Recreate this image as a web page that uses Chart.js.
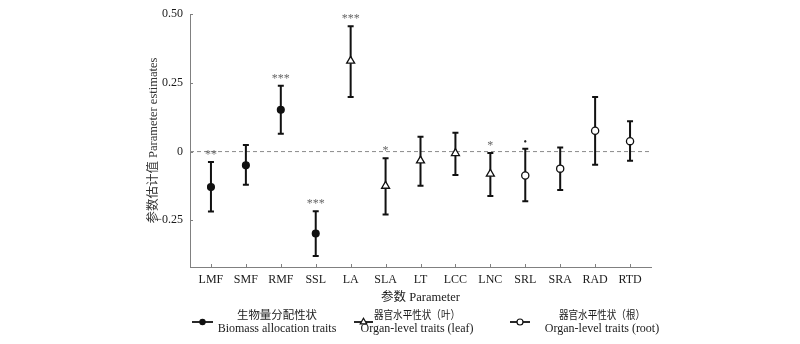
<!DOCTYPE html>
<html>
<head>
<meta charset="utf-8">
<script src="https://cdn.jsdelivr.net/npm/chart.js@4.4.1/dist/chart.umd.min.js"></script>
<style>
  html, body { margin: 0; padding: 0; background: #fff; }
  canvas { display: block; }
</style>
</head>
<body>
<canvas id="estChart" width="800" height="344"></canvas>
<script>
// parameters on the x axis, in plotting order
const params = ['LMF', 'SMF', 'RMF', 'SSL', 'LA', 'SLA', 'LT', 'LCC', 'LNC', 'SRL', 'SRA', 'RAD', 'RTD'];
// estimate and its interval for each parameter
const estimates = [-0.129, -0.050, 0.152, -0.298, 0.330, -0.125, -0.033, -0.006, -0.081, -0.087, -0.062, 0.076, 0.038];
const lowerCI   = [-0.218, -0.121, 0.065, -0.380, 0.199, -0.229, -0.124, -0.085, -0.162, -0.181, -0.140, -0.048, -0.033];
const upperCI   = [-0.038, 0.024, 0.240, -0.217, 0.456, -0.024, 0.054, 0.069, -0.005, 0.010, 0.015, 0.199, 0.110];
const signif    = ['**', '', '***', '***', '***', '*', '', '', '*', '•', '', '', ''];
// 0 = biomass allocation, 1 = leaf, 2 = root
const groupOf   = [0, 0, 0, 0, 1, 1, 1, 1, 1, 2, 2, 2, 2];
const groupNamesCn = ['生物量分配性状', '器官水平性状（叶）', '器官水平性状（根）'];
const groupNamesEn = ['Biomass allocation traits', 'Organ-level traits (leaf)', 'Organ-level traits (root)'];
const yTicks      = [0.5, 0.25, 0, -0.25];
const yTickLabels = ['0.50', '0.25', '0', '−0.25'];

const SERIF = '"Liberation Serif", "Noto Sans CJK SC", serif';
const INK = '#1a1a1a';
const AXIS = '#808080';

const groupStyles = [
  { pointStyle: 'circle',   radius: 3.4, bg: '#111', legendRadius: 2.6 },
  { pointStyle: 'triangle', radius: 4.6, bg: '#fff', legendRadius: 3.8 },
  { pointStyle: 'circle',   radius: 3.6, bg: '#fff', legendRadius: 3.0 }
];

function groupData(g) {
  const out = [];
  params.forEach((p, i) => {
    if (groupOf[i] === g) out.push({ x: i, y: estimates[i] });
  });
  return out;
}

const datasets = groupStyles.map((s, g) => ({
  label: groupNamesEn[g],
  data: groupData(g),
  pointStyle: s.pointStyle,
  pointRadius: s.radius,
  pointBackgroundColor: s.bg,
  pointBorderColor: '#111',
  pointBorderWidth: 1.3,
  showLine: false
}));

// zero line, whiskers, inward ticks, significance marks and the legend
const decorations = {
  id: 'decorations',
  beforeDatasetsDraw(chart) {
    const { ctx, chartArea, scales: { x, y } } = chart;
    ctx.save();
    // dashed reference line at 0
    ctx.strokeStyle = '#8a8a8a';
    ctx.lineWidth = 1;
    ctx.setLineDash([4, 3]);
    ctx.beginPath();
    ctx.moveTo(chartArea.left, y.getPixelForValue(0));
    ctx.lineTo(chartArea.right, y.getPixelForValue(0));
    ctx.stroke();
    ctx.setLineDash([]);

    // error bars
    ctx.strokeStyle = '#111';
    ctx.lineWidth = 2;
    params.forEach((p, i) => {
      const px = x.getPixelForValue(i);
      const lo = y.getPixelForValue(lowerCI[i]);
      const hi = y.getPixelForValue(upperCI[i]);
      ctx.beginPath();
      ctx.moveTo(px, lo); ctx.lineTo(px, hi);
      ctx.moveTo(px - 3, lo); ctx.lineTo(px + 3, lo);
      ctx.moveTo(px - 3, hi); ctx.lineTo(px + 3, hi);
      ctx.stroke();
    });

    // significance marks above the upper caps
    ctx.textAlign = 'center';
    ctx.textBaseline = 'alphabetic';
    params.forEach((p, i) => {
      if (!signif[i]) return;
      ctx.font = (signif[i] === '•' ? '10px ' : '12px ') + SERIF;
      ctx.fillStyle = signif[i] === '•' ? '#222' : '#666';
      ctx.fillText(signif[i], x.getPixelForValue(i), y.getPixelForValue(upperCI[i]) - 4);
    });
    ctx.restore();
  },
  afterDraw(chart) {
    const { ctx, chartArea, scales: { x, y } } = chart;
    ctx.save();
    // tick marks pointing into the plot
    ctx.strokeStyle = AXIS;
    ctx.lineWidth = 1;
    ctx.beginPath();
    x.ticks.forEach(t => {
      const px = Math.round(x.getPixelForValue(t.value)) + 0.5;
      ctx.moveTo(px, chartArea.bottom);
      ctx.lineTo(px, chartArea.bottom - 3);
    });
    y.ticks.forEach(t => {
      const py = Math.round(y.getPixelForValue(t.value)) + 0.5;
      ctx.moveTo(chartArea.left, py);
      ctx.lineTo(chartArea.left + 3, py);
    });
    ctx.stroke();

    // legend: marker on a short line, two-line label
    const items = [
      { x1: 192, x2: 213, tx: 277, cnW: 80 },
      { x1: 354, x2: 373, tx: 417, cnW: 86 },
      { x1: 510, x2: 530, tx: 602, cnW: 86 }
    ];
    items.forEach((it, g) => {
      const s = groupStyles[g];
      const ly = 322;
      ctx.strokeStyle = '#111';
      ctx.lineWidth = 1.8;
      ctx.beginPath();
      ctx.moveTo(it.x1, ly); ctx.lineTo(it.x2, ly);
      ctx.stroke();
      ctx.fillStyle = s.bg;
      ctx.strokeStyle = '#111';
      ctx.lineWidth = 1.2;
      Chart.helpers.drawPoint(ctx, {
        pointStyle: s.pointStyle, radius: s.legendRadius, rotation: 0, borderWidth: 1.2
      }, (it.x1 + it.x2) / 2, ly);

      ctx.fillStyle = INK;
      ctx.textAlign = 'center';
      ctx.textBaseline = 'alphabetic';
      ctx.font = '11.5px "Noto Sans CJK SC", sans-serif';
      ctx.fillText(groupNamesCn[g], it.tx, 318.5, it.cnW);
      ctx.font = '12px ' + SERIF;
      ctx.fillText(groupNamesEn[g], it.tx, 332);
    });
    ctx.restore();
  }
};

new Chart(document.getElementById('estChart'), {
  type: 'scatter',
  data: { datasets },
  options: {
    responsive: false,
    animation: false,
    devicePixelRatio: 1,
    layout: { padding: { left: 0, right: 149, top: 10, bottom: 34 } },
    plugins: {
      legend: { display: false },
      tooltip: { enabled: false }
    },
    scales: {
      x: {
        type: 'linear',
        min: -0.6,
        max: 12.6,
        afterBuildTicks: scale => { scale.ticks = params.map((p, i) => ({ value: i })); },
        afterFit: scale => { scale.height = 43; },
        grid: { display: false, drawTicks: false },
        border: { display: true, color: AXIS, width: 1 },
        ticks: {
          autoSkip: false,
          maxRotation: 0,
          padding: 6,
          color: INK,
          font: { family: SERIF, size: 12 },
          callback: v => params[v]
        },
        title: {
          display: true,
          text: '参数 Parameter',
          color: INK,
          font: { family: SERIF, size: 12.5 },
          padding: { top: 0, bottom: 4.5 }
        }
      },
      y: {
        min: -0.42,
        max: 0.5,
        afterBuildTicks: scale => { scale.ticks = yTicks.map(v => ({ value: v })); },
        afterFit: scale => { scale.width = 190; },
        grid: { display: false, drawTicks: false },
        border: { display: true, color: AXIS, width: 1 },
        ticks: {
          padding: 7,
          color: INK,
          font: { family: SERIF, size: 12 },
          callback: v => yTickLabels[yTicks.indexOf(v)]
        },
        title: {
          display: true,
          text: '参数估计值 Parameter estimates',
          color: '#333',
          font: { family: SERIF, size: 12.5 },
          padding: { top: 146, bottom: 0 }
        }
      }
    }
  },
  plugins: [decorations]
});
</script>
</body>
</html>
